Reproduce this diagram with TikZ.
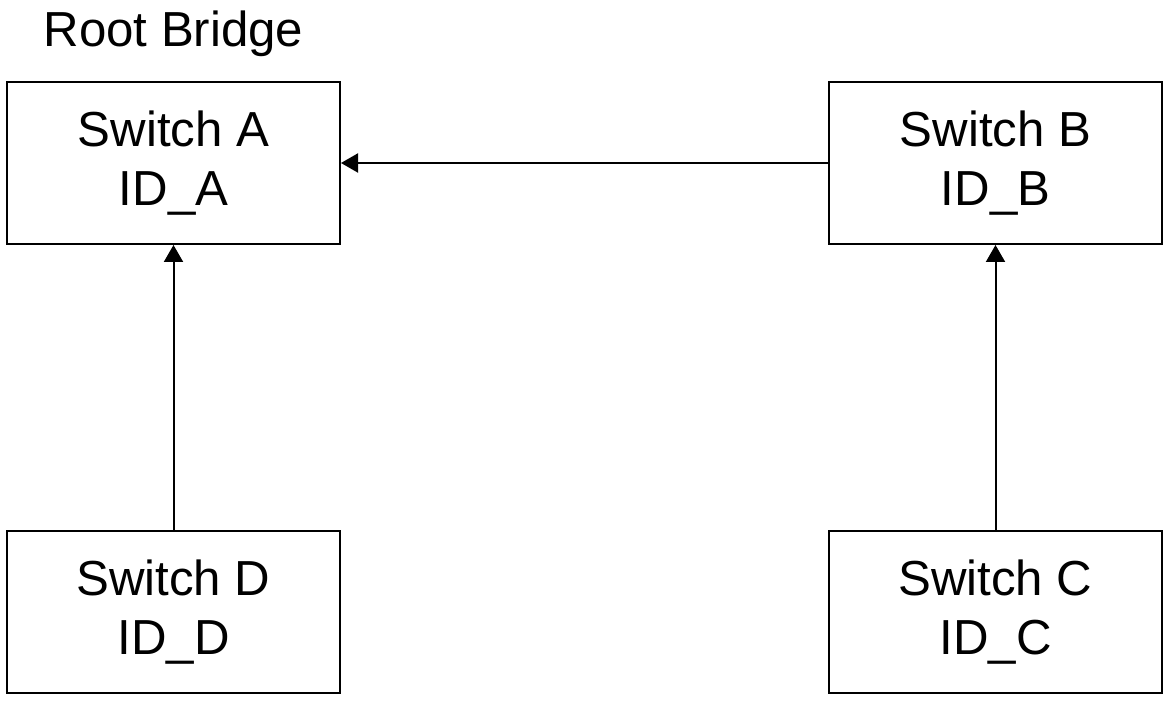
\documentclass[tikz,border=0pt]{standalone}
\usepackage{fontspec}
\setmainfont{Liberation Sans}
\usetikzlibrary{positioning,arrows.meta}

\tikzset{
  switchbox/.style={draw, line width=0.04cm, minimum width=6.66cm, minimum height=3.24cm,
    inner sep=0pt, align=center, font=\fontsize{28}{34}\selectfont},
  link/.style={line width=0.04cm, -{Triangle[length=0.34cm,width=0.38cm]}}
}

\begin{document}
\begin{tikzpicture}
 \useasboundingbox (0,0) rectangle (23.4,-14.04);
 \node [switchbox] (swA) at (3.47,-3.26) {Switch A\\ID\_A};
 \node [switchbox, right=9.74cm of swA] (swB) {Switch B\\ID\_B};
 \node [switchbox, below=5.70cm of swA] (swD) {Switch D\\ID\_D};
 \node [switchbox, below=5.70cm of swB] (swC) {Switch C\\ID\_C};
 \node [above=0.48cm of swA, inner sep=0pt, font=\fontsize{28}{34}\selectfont] (root) {Root Bridge};
 \draw [link] (swB) -- (swA);
 \draw [link] (swD) -- (swA);
 \draw [link] (swC) -- (swB);
\end{tikzpicture}
\end{document}
